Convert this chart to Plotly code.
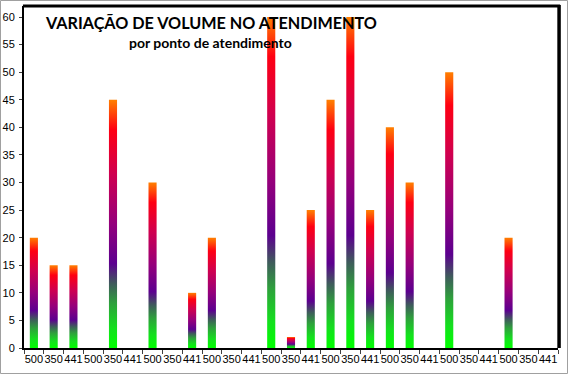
import plotly.graph_objects as go

# Data
tick_labels = ["500", "350", "441"] * 9
values = [20, 15, 15, 0, 45, 0, 30, 0, 10,
          20, 0, 0, 60, 2, 25, 45, 60, 25,
          40, 30, 0, 50, 0, 0, 20, 0, 0]
y_ticks = list(range(0, 61, 5))

title_text = "VARIAÇÃO DE VOLUME NO ATENDIMENTO"
subtitle_text = "por ponto de atendimento"

gradient = [
    [0.00, "#00ff00"],
    [0.08, "#14e01e"],
    [0.18, "#2ea03c"],
    [0.26, "#3f5a5c"],
    [0.34, "#5c008f"],
    [0.50, "#94007c"],
    [0.70, "#cf0050"],
    [0.88, "#ff0012"],
    [1.00, "#ff8000"],
]

W, H = 568, 374
L, R, T, B = 24, 10, 6, 26  # plot area 24..558 x 6..348
half = 0.205

fig = go.Figure()
for i, v in enumerate(values):
    if v <= 0:
        continue
    fig.add_trace(go.Scatter(
        x=[i - half, i + half, i + half, i - half, i - half],
        y=[0, 0, v, v, 0],
        mode="lines",
        line=dict(width=0),
        fill="toself",
        fillgradient=dict(type="vertical", colorscale=gradient),
        hoverinfo="skip",
        showlegend=False,
    ))

pw = W - L - R
ph = H - T - B

fig.update_layout(
    width=W, height=H,
    margin=dict(l=L, r=R, t=T, b=B, pad=0, autoexpand=False),
    paper_bgcolor="white",
    plot_bgcolor="white",
    font=dict(family="Liberation Sans, Arial", size=11, color="#000000"),
    xaxis=dict(
        range=[-0.5, len(values) - 0.5],
        tickmode="array",
        tickvals=list(range(len(values))),
        ticktext=tick_labels,
        tickangle=0,
        automargin=False,
        ticks="",
        showgrid=False, zeroline=False,
        showline=True, linecolor="black", linewidth=2,
        tickfont=dict(size=11),
        minor=dict(tickmode="array",
                   tickvals=[k - 0.5 for k in range(len(values) + 1)],
                   ticks="outside", ticklen=4, tickcolor="#404040", tickwidth=1),
        fixedrange=True,
    ),
    yaxis=dict(
        range=[0, 62],
        tickmode="array",
        tickvals=y_ticks,
        automargin=False,
        ticks="outside", ticklen=3, tickcolor="#404040",
        showgrid=False, zeroline=False,
        showline=True, linecolor="black", linewidth=2,
        tickfont=dict(size=11),
        ticklabelstandoff=2,
        fixedrange=True,
    ),
    shapes=[
        # thick top and right frame
        dict(type="line", xref="paper", yref="paper", x0=-0.002, x1=1.004, y0=1, y1=1,
             line=dict(color="black", width=3)),
        dict(type="line", xref="paper", yref="paper", x0=1.002, x1=1.002, y0=0, y1=1.003,
             line=dict(color="black", width=3.5)),
        # outer gray border
        dict(type="rect", xref="paper", yref="paper",
             x0=(0.5 - L) / pw, x1=(W - 0.5 - L) / pw,
             y0=((H - B) - (H - 0.5)) / ph, y1=((H - B) - 0.5) / ph,
             line=dict(color="#a0a0a0", width=1)),
    ],
    annotations=[
        dict(text=title_text, xref="paper", yref="paper",
             x=(211 - L) / pw, y=((H - B) - 23) / ph,
             xanchor="center", yanchor="middle", showarrow=False,
             font=dict(family="Lato", size=16.2, color="black", weight="bold")),
        dict(text=subtitle_text, xref="paper", yref="paper",
             x=(210 - L) / pw, y=((H - B) - 43) / ph,
             xanchor="center", yanchor="middle", showarrow=False,
             font=dict(family="Lato", size=14, color="black", weight="bold")),
    ],
)

fig.write_html(
    "out.html",
    config={"displayModeBar": False},
    post_script="document.body.style.margin='0';document.body.style.overflow='hidden';",
)
